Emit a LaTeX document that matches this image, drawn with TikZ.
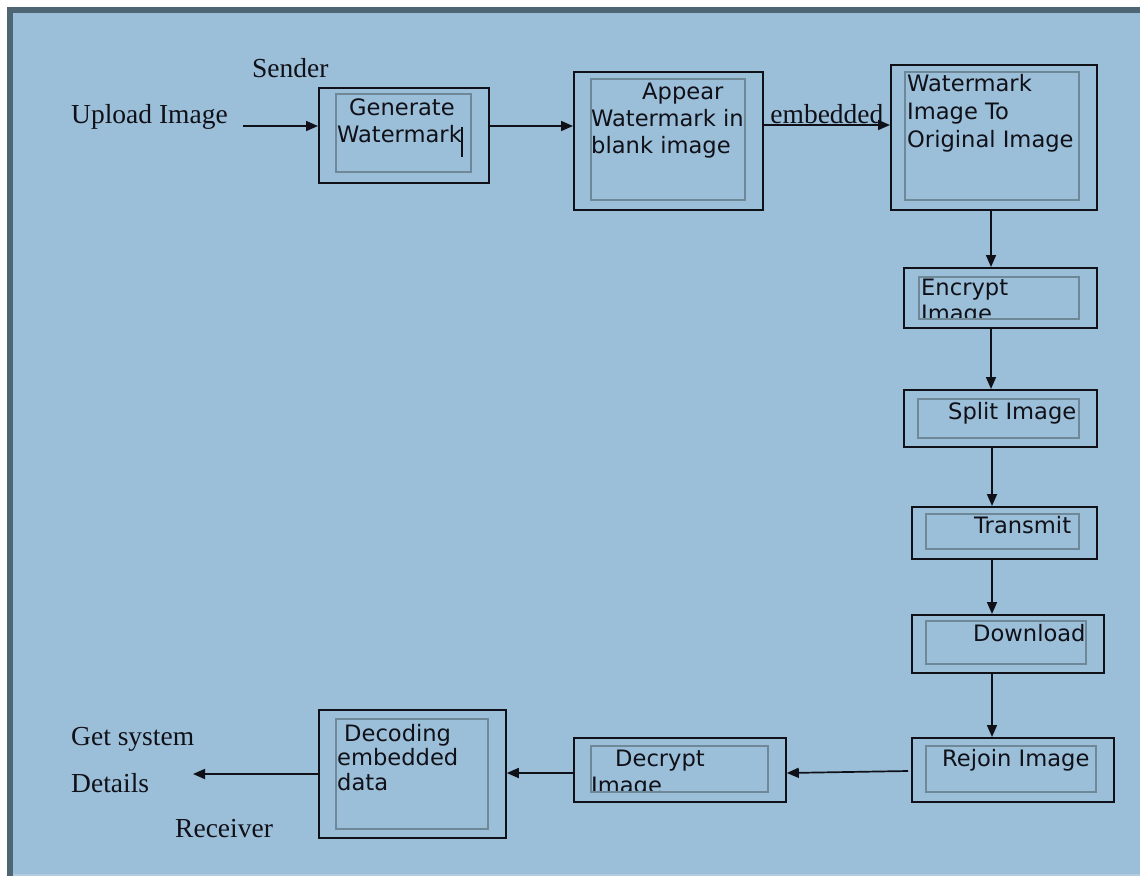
\documentclass[tikz,border=0pt]{standalone}
\usepackage{fontspec}
\setmainfont{Liberation Serif}
\newfontfamily\boxfont{DejaVu Sans}
\usetikzlibrary{arrows.meta}
\definecolor{bgblue}{HTML}{9BBFD8}
\definecolor{framec}{HTML}{4E6574}
\definecolor{innergray}{HTML}{6F8898}
\definecolor{ink}{HTML}{101018}
\definecolor{bottomline}{HTML}{B3CCDD}
\tikzset{
  outerbox/.style={draw=ink, line width=1.8pt, inner sep=0pt, anchor=north west},
  innerbox/.style={draw=innergray, line width=1.1pt},
  btxt/.style={font=\boxfont\fontsize{22.6}{26}\selectfont, text=ink, inner sep=0pt, anchor=base west},
  stxt/.style={font=\fontsize{27.5}{33}\selectfont, text=ink, inner sep=0pt, anchor=base west},
  arr/.style={draw=ink, line width=1.7pt, -{Triangle[length=12pt,width=10pt]}},
}
\begin{document}
\begin{tikzpicture}[x=1pt,y=-1pt]
\useasboundingbox (0,0) rectangle (1140,876);
% background and frame
\fill[white] (0,0) rectangle (1140,876);
\fill[framec] (7,7) rectangle (1140,876);
\fill[bgblue] (13,13) rectangle (1140,876);
\draw[bottomline, line width=1.5pt] (13,875) -- (1140,875);

% ---- outer boxes
\node[outerbox, minimum width=170pt, minimum height=95pt]  (gen) at (318,87)  {};
\node[outerbox, minimum width=189pt, minimum height=138pt] (app) at (573,71)  {};
\node[outerbox, minimum width=206pt, minimum height=145pt] (wm)  at (890,64)  {};
\node[outerbox, minimum width=193pt, minimum height=60pt]  (enc) at (903,267) {};
\node[outerbox, minimum width=193pt, minimum height=57pt]  (spl) at (903,389) {};
\node[outerbox, minimum width=185pt, minimum height=52pt]  (trn) at (911,506) {};
\node[outerbox, minimum width=192pt, minimum height=58pt]  (dwn) at (911,614) {};
\node[outerbox, minimum width=202pt, minimum height=64pt]  (rej) at (911,737) {};
\node[outerbox, minimum width=212pt, minimum height=64pt]  (dec) at (573,737) {};
\node[outerbox, minimum width=187pt, minimum height=128pt] (dcd) at (318,709) {};

% ---- box texts
\node[btxt] (gen1) at (349,115) {Generate};
\node[btxt] (gen2) at (337,142) {Watermark};
\draw[ink, line width=1.2pt] (462,127) -- (462,157);

\node[btxt] (app1) at (642,99)  {Appear};
\node[btxt] (app2) at (591,126) {Watermark in};
\node[btxt] (app3) at (591,153) {blank image};

\node[btxt] (wm1) at (907,91)  {Watermark};
\node[btxt] (wm2) at (907,119) {Image To};
\node[btxt] (wm3) at (907,147) {Original Image};

\node[btxt] (enc1) at (921,295) {Encrypt};
\begin{scope}
  \clip (919,277) rectangle (1079,319);
  \node[btxt] (enc2) at (921,321) {Image};
\end{scope}

\node[btxt] (spl1) at (948,419) {Split Image};
\node[btxt] (trn1) at (974,533) {Transmit};
\node[btxt] (dwn1) at (973,641) {Download};
\node[btxt] (rej1) at (942,766) {Rejoin Image};

\node[btxt] (dec1) at (615,766) {Decrypt};
\begin{scope}
  \clip (591,746) rectangle (768,792);
  \node[btxt] (dec2) at (591,793) {Image};
\end{scope}

\node[btxt] (dcd1) at (344,741) {Decoding};
\node[btxt] (dcd2) at (337,765) {embedded};
\node[btxt] (dcd3) at (337,790) {data};

% ---- inner boxes
\draw[innerbox] (336,94)  rectangle (471,172);
\draw[innerbox] (591,79)  rectangle (745,200);
\draw[innerbox] (905,72)  rectangle (1079,200);
\draw[innerbox] (919,277) rectangle (1079,319);
\draw[innerbox] (918,399) rectangle (1079,438);
\draw[innerbox] (926,514) rectangle (1079,549);
\draw[innerbox] (926,621) rectangle (1086,664);
\draw[innerbox] (926,746) rectangle (1096,792);
\draw[innerbox] (591,746) rectangle (768,792);
\draw[innerbox] (336,719) rectangle (488,829);

% ---- free labels
\node[stxt] (sender)  at (252,77)  {Sender};
\node[stxt] (upload)  at (71,123)  {Upload Image};
\node[stxt] (getsys)  at (71,745)  {Get system};
\node[stxt] (details) at (71,792)  {Details};
\node[stxt] (recv)    at (175,837) {Receiver};

% ---- connectors
\coordinate (up) at (243,126);
\coordinate (r1) at (0,126);
\coordinate (r2) at (0,125);
\coordinate (vxa) at (991,0);
\coordinate (vxb) at (992,0);
\coordinate (b1) at (0,771);
\coordinate (b2) at (0,773);
\coordinate (gd) at (193,774);

\draw[arr] (up) -- (up -| gen.west);
\draw[arr] (gen.east |- r1) -- (app.west |- r1);
\draw[arr] (app.east |- r2) -- node[stxt, anchor=base, yshift=2pt] (emb) {embedded} (wm.west |- r2);

\draw[arr] (wm.south -| vxa)  -- (enc.north -| vxa);
\draw[arr] (enc.south -| vxa) -- (spl.north -| vxa);
\draw[arr] (spl.south -| vxb) -- (trn.north -| vxb);
\draw[arr] (trn.south -| vxb) -- (dwn.north -| vxb);
\draw[arr] (dwn.south -| vxb) -- (rej.north -| vxb);

\draw[arr] ([xshift=-3pt]rej.west |- b1) -- (dec.east |- b2);
\draw[arr] (dec.west |- b2) -- (dcd.east |- b2);
\draw[arr] (dcd.west |- gd) -- (gd);
\end{tikzpicture}
\end{document}
